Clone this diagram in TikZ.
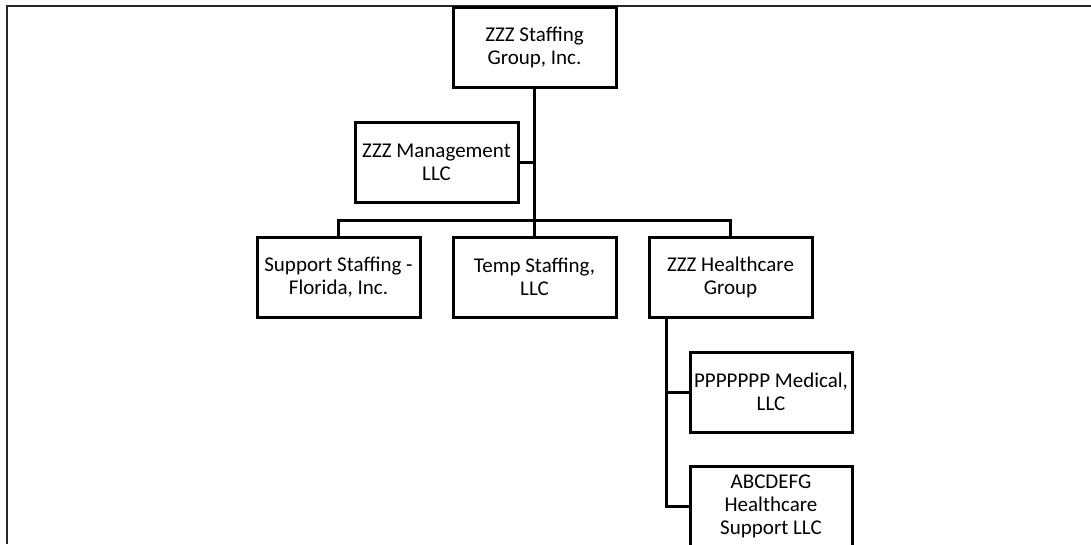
\documentclass[tikz,border=0pt]{standalone}
\usepackage{fontspec}
\setmainfont{Carlito}
\begin{document}
\begin{tikzpicture}[x=1pt,y=-1pt,
  orgbox/.style={draw=black, line width=3pt, rectangle, minimum width=163pt,
    minimum height=80pt, inner sep=0pt, align=center, fill=white,
    font=\fontsize{21}{23}\selectfont},
  link/.style={draw=black, line width=3pt, line join=miter},
  frameline/.style={draw=black!85, line width=2.5pt}]
\useasboundingbox (0,0) rectangle (1091,544);

% outer frame (top and left edges visible)
\draw[frameline] (1091,6) -- (7,6) -- (7,544);

% companies
\node[orgbox] (top)     at (534.5,47)  {ZZZ Staffing\\Group, Inc.};
\node[orgbox] (mgmt)    at (436.5,162) {ZZZ Management\\LLC};
\node[orgbox] (support) at (338.5,277) {Support Staffing -\\Florida, Inc.};
\node[orgbox] (temp)    at (534.5,277) {Temp Staffing,\\LLC};
\node[orgbox] (hc)      at (730.5,277) {ZZZ Healthcare\\Group};
\node[orgbox, minimum width=162pt] (ppp) at (771,392) {PPPPPPP Medical,\\LLC};
\node[orgbox, minimum width=162pt] (abc) at (771,506) {ABCDEFG\\Healthcare\\Support LLC};

% connection points
\coordinate (bus)    at (534.5,220);
\coordinate (hcdrop) at (666,317);

% connectors
\draw[link] (top.south) -- (temp.north);
\draw[link] (mgmt.east) -- (top.south |- mgmt.east);
\draw[link] (support.north) |- (bus) -| (hc.north);
\draw[link] (hcdrop) |- (ppp.west);
\draw[link] (hcdrop) |- (abc.west);
\end{tikzpicture}
\end{document}
